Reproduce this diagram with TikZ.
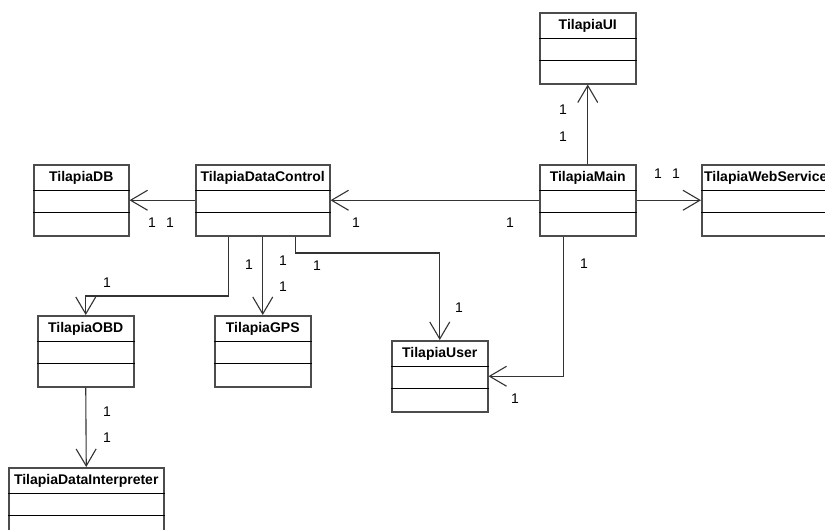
\documentclass[tikz,border=0pt]{standalone}
\usepackage{fontspec}
\setmainfont{Liberation Sans}
\usetikzlibrary{arrows.meta}

\tikzset{
  cls/.style={draw=black!70, line width=1.5pt, minimum height=71pt, inner sep=0pt, anchor=north west},
  title/.style={font=\fontsize{14}{16}\selectfont\bfseries, inner sep=0pt, anchor=base},
  sep/.style={line width=1pt, black},
  assoc/.style={line width=1.1pt, black!80, -{Straight Barb[length=17pt,width=20pt,line width=1.1pt]}},
  mult/.style={font=\fontsize{14}{16}\selectfont, inner sep=0pt},
}

\newcommand{\umlclass}[5]{%
  \node[cls, minimum width=#4pt] (#1) at (#2,#3) {};
  \node[title] (#1-t) at ([yshift=-17pt]#1.north) {#5};
  \draw[sep] ([yshift=-26pt]#1.north west) -- ([yshift=-26pt]#1.north east);
  \draw[sep] ([yshift=-48pt]#1.north west) -- ([yshift=-48pt]#1.north east);
}

\begin{document}
\begin{tikzpicture}[x=1pt,y=-1pt]

\fill[white] (0,0) rectangle (825,530);
\useasboundingbox (0,0) rectangle (825,530);

\umlclass{ui}{539}{12}{96}{TilapiaUI}
\umlclass{main}{539}{164}{96}{TilapiaMain}
\umlclass{web}{701}{164}{128}{TilapiaWebService}
\umlclass{db}{33}{164}{95}{TilapiaDB}
\umlclass{dc}{195}{164}{134}{TilapiaDataControl}
\umlclass{obd}{37}{315}{96}{TilapiaOBD}
\umlclass{gps}{214}{315}{96}{TilapiaGPS}
\umlclass{user}{391}{340}{96}{TilapiaUser}
\umlclass{interp}{8}{467}{155}{TilapiaDataInterpreter}

\draw[assoc] (main.north) -- (ui.south);
\draw[assoc] (main.east) -- (web.west);
\draw[assoc] (main.west) -- (dc.east);
\draw[assoc] (dc.west) -- (db.east);
\draw[assoc] ([xshift=-34pt]dc.south) |- ([yshift=19pt]obd.north) -- (obd.north);
\draw[assoc] (dc.south) -- (gps.north);
\draw[assoc] ([xshift=33pt]dc.south) |- ([yshift=87pt]user.north) -- (user.north);
\draw[assoc] ([xshift=-24pt]main.south) |- (user.east);
\draw[assoc] (obd.south) -- (interp.north);

\node[mult] (m1) at (563,110) {1};
\node[mult] (m2) at (563,137) {1};
\node[mult] (m3) at (658,174) {1};
\node[mult] (m4) at (676,174) {1};
\node[mult] (m5) at (510,223) {1};
\node[mult] (m6) at (356,223) {1};
\node[mult] (m7) at (152,223) {1};
\node[mult] (m8) at (170,223) {1};
\node[mult] (m9) at (249,265) {1};
\node[mult] (m10) at (107,283) {1};
\node[mult] (m11) at (283,261) {1};
\node[mult] (m12) at (283,287) {1};
\node[mult] (m13) at (317,266) {1};
\node[mult] (m14) at (459,308) {1};
\node[mult] (m15) at (584,264) {1};
\node[mult] (m16) at (515,399) {1};
\node[mult] (m17) at (107,412) {1};
\node[mult] (m18) at (107,438) {1};

\end{tikzpicture}
\end{document}
